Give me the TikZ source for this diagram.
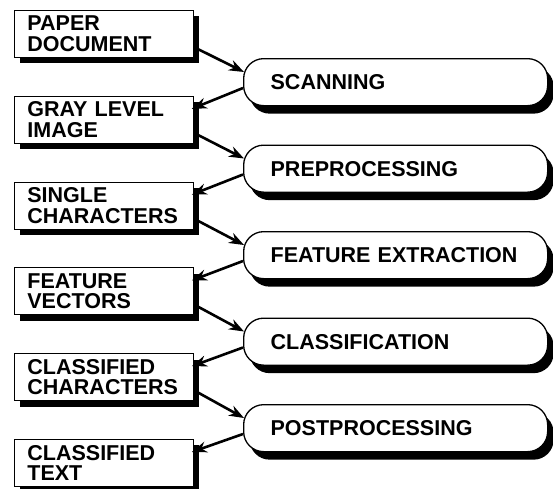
\documentclass[tikz,border=0pt]{standalone}
\usepackage{fontspec}
\setmainfont{Liberation Sans}
\usetikzlibrary{shadows,arrows.meta}
\begin{document}
\begin{tikzpicture}[x=1pt,y=-1pt,
  databox/.style={draw, line width=0.8pt, fill=white, anchor=north west,
    minimum width=179pt, minimum height=47pt, text width=153pt,
    inner xsep=13pt, inner ysep=0pt, align=left,
    font=\bfseries\fontsize{21.5}{20.5}\selectfont,
    drop shadow={shadow xshift=6pt, shadow yshift=-6pt, fill=black, opacity=1}},
  procbox/.style={draw, line width=1.3pt, fill=white, rounded corners=20pt,
    anchor=north west, minimum width=304pt, minimum height=47pt,
    text width=250pt, inner xsep=27pt, inner ysep=0pt, align=left,
    font=\bfseries\fontsize{21.5}{21}\selectfont,
    drop shadow={shadow xshift=6pt, shadow yshift=-8pt, fill=black, opacity=1}},
  arr/.style={line width=2.6pt, -{Stealth[length=15pt,width=11pt]}}]
\path[use as bounding box, fill=white] (0,0) rectangle (553,488);

\node[databox] (b1) at (14,10)    {PAPER\\DOCUMENT};
\node[databox] (b2) at (14,95.8)  {GRAY LEVEL\\IMAGE};
\node[databox] (b3) at (14,181.6) {SINGLE\\CHARACTERS};
\node[databox] (b4) at (14,267.4) {FEATURE\\VECTORS};
\node[databox] (b5) at (14,353.2) {CLASSIFIED\\CHARACTERS};
\node[databox] (b6) at (14,439)   {CLASSIFIED\\TEXT};

\node[procbox] (p1) at (243,58)    {SCANNING};
\node[procbox] (p2) at (243,144.5) {PREPROCESSING};
\node[procbox] (p3) at (243,231)   {FEATURE EXTRACTION};
\node[procbox] (p4) at (243,317.5) {CLASSIFICATION};
\node[procbox] (p5) at (243,404)   {POSTPROCESSING};

\foreach \i/\j in {1/2,2/3,3/4,4/5,5/6}{
  \draw[arr] ([yshift=-37pt]b\i.north east) -- ([xshift=1pt,yshift=-14pt]p\i.north west);
  \draw[arr] ([yshift=-30pt]p\i.north west) -- ([xshift=-2pt,yshift=-13pt]b\j.north east);
}
\end{tikzpicture}
\end{document}
